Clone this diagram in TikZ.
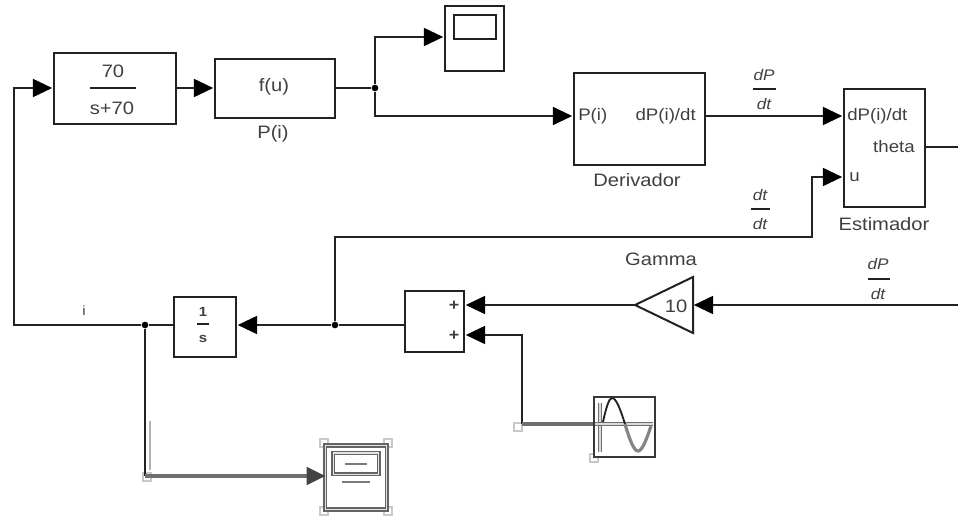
\documentclass[tikz,border=0pt]{standalone}
\usepackage{fontspec}
\setmainfont[FakeStretch=1.12]{Liberation Sans}
\usetikzlibrary{arrows.meta}
\definecolor{ink}{HTML}{222222}
\definecolor{txt}{HTML}{404040}
\tikzset{
  x=0.75pt,y=-0.75pt,
  block/.style={draw=ink,line width=1.5pt,fill=white,inner sep=0pt},
  ghost/.style={draw=ink!70,line width=1pt,double=white!75!gray,double distance=1.2pt,fill=white,inner sep=0pt},
  wire/.style={draw=ink,line width=1.5pt},
  sig/.style={wire,-{Triangle[length=14.5pt,width=13.5pt,color=black]},shorten >=0.6pt},
  heavy/.style={draw=ink!65,line width=2.6pt},
  dot/.style={circle,fill=black,inner sep=0pt,minimum size=5pt},
  lab/.style={text=txt,font=\fontsize{13.5}{15}\selectfont,inner sep=0pt},
  port/.style={text=txt,font=\fontsize{12.5}{15}\selectfont,inner sep=0pt},
  frac/.style={text=txt,font=\fontsize{11.5}{13}\selectfont\itshape,inner sep=0pt},
  fracbar/.style={draw=ink,line width=1.1pt},
  handle/.style={draw=ink!25,line width=0.8pt,fill=white,minimum size=6pt,inner sep=0pt}
}
\begin{document}
\begin{tikzpicture}
\useasboundingbox (0,0) rectangle (958,521);
\fill[white] (0,0) rectangle (958,521);
% blocks
\node[block,minimum width=91.5pt,minimum height=53.25pt] (tf) at (115,88) {};
\node[block,minimum width=90pt,minimum height=44.25pt] (fu) at (275,88) {};
\node[block,minimum width=44.25pt,minimum height=48.75pt] (sc) at (474.5,38.5) {};
\node[draw=ink,line width=1.5pt,minimum width=31.5pt,minimum height=18pt,inner sep=0pt] (scin) at (475,27) {};
\node[block,minimum width=98.25pt,minimum height=69pt] (der) at (639.5,119) {};
\node[block,minimum width=60.75pt,minimum height=88.5pt] (est) at (884.5,148) {};
\node[block,minimum width=44.25pt,minimum height=45.75pt] (sum) at (434.5,321.5) {};
\node[block,minimum width=46.5pt,minimum height=45pt] (int) at (205,327) {};
% handles of the selected blocks
\node[handle] (h1) at (147,477) {};
\node[handle] (h2) at (518,427) {};
\node[handle] (h3) at (324,443) {};
\node[handle] (h4) at (388,443) {};
\node[handle] (h5) at (324,511) {};
\node[handle] (h6) at (388,511) {};
\node[handle] (h7) at (594,458) {};
\node[ghost,minimum width=46pt,minimum height=48pt] (sc2) at (356,477.5) {};
\node[draw=ink!70,line width=1pt,double=white!80!gray,double distance=1pt,minimum width=34pt,minimum height=16pt,inner sep=0pt] (sc2in) at (356,463.5) {};
\draw[ink!60,line width=1pt] (345,464) -- (367,464);
\draw[ink!60,line width=1pt] (342,482) -- (370,482);
\node[draw=ink!90,line width=1.5pt,fill=white,minimum width=45.75pt,minimum height=45pt,inner sep=0pt] (sine) at (624.5,427) {};
% gain
\coordinate (gtip) at (635,305);
\coordinate (gtop) at (693,277);
\coordinate (gbot) at (693,333);
\draw[wire,fill=white,line join=miter] (gtip) -- (gtop) -- (gbot) -- cycle;
\node[lab] (gv) at (676,306) {10};
% sine icon
\coordinate (sa) at (600,403);
\coordinate (sb) at (600,452);
\coordinate (sc0) at (595,424);
\coordinate (sd) at (653,424);
\draw[ink!65,line width=1pt,double=white!70!gray,double distance=0.8pt] (sa) -- (sb);
\draw[ink!65,line width=1pt,double=white!70!gray,double distance=0.8pt] (sc0) -- (sd);
\draw[ink,line width=1.4pt] (603,422) .. controls (606,408) and (609,398) .. (612,398) .. controls (616,398) and (620,408) .. (625,424);
\draw[ink!55,line width=2.4pt] (625,424) .. controls (630,441) and (634,451) .. (638,451) .. controls (642,451) and (646,441) .. (651,426);
% text
\node[lab] (num) at (113,71) {70};
\draw[ink,line width=1.2pt] (90,88) -- (136,88);
\node[lab] (den) at (112,108) {s+70};
\node[lab] (fut) at (274,87) {f(u)};
\node[lab] (pil) at (273,134) {P(i)};
\node[port,anchor=west] (pin) at (578,116) {P(i)};
\node[port,anchor=east] (dpo) at (696,116) {dP(i)/dt};
\node[lab] (derl) at (637,180) {Derivador};
\node[port,anchor=west] (dpi) at (847,116) {dP(i)/dt};
\node[port,anchor=east] (tho) at (915,147) {theta};
\node[port,anchor=west] (uin) at (849,177) {u};
\node[lab] (estl) at (884,224) {Estimador};
\node[lab] (gam) at (661,259) {Gamma};
\node[port,font=\fontsize{12}{14}\selectfont\bfseries] (p1) at (454,306) {+};
\node[port,font=\fontsize{12}{14}\selectfont\bfseries] (p2) at (454,336) {+};
\node[lab,font=\fontsize{10}{11}\selectfont\bfseries] (one) at (203,312) {1};
\draw[ink,line width=1.1pt] (197,324) -- (209,324);
\node[lab,font=\fontsize{10}{11}\selectfont\bfseries] (es) at (203,339) {s};
\node[lab,font=\fontsize{10}{11}\selectfont] (il) at (84,311) {i};
\node[frac] (a1) at (764,75) {dP};
\draw[fracbar] (753,89) -- (776,89);
\node[frac] (a2) at (764,104) {dt};
\node[frac] (b1) at (760,195) {dt};
\draw[fracbar] (751,209) -- (770,209);
\node[frac] (b2) at (760,224) {dt};
\node[frac] (c1) at (878,264) {dP};
\draw[fracbar] (868,279) -- (890,279);
\node[frac] (c2) at (878,294) {dt};
% junctions and free ends
\node[dot] (j1) at (375,88) {};
\node[dot] (j2) at (335,325) {};
\node[dot] (j3) at (145,325) {};
\coordinate (c1a) at (375,37);
\coordinate (c1b) at (375,116);
\coordinate (right1) at (958,147);
\coordinate (right2) at (958,305);
\coordinate (l1) at (14,325);
\coordinate (l2) at (14,88);
\coordinate (u1) at (335,237);
\coordinate (u2) at (812,237);
\coordinate (u3) at (812,177);
\coordinate (k1) at (145,476);
\coordinate (s1) at (522,335);
\coordinate (s2) at (522,424);
% connectors
\draw[sig] (tf.east) -- (fu.west);
\draw[wire] (fu.east) -- (j1);
\draw[sig] (j1) -- (c1a) -- (sc.west |- c1a);
\draw[sig] (j1) -- (c1b) -- (der.west |- c1b);
\draw[sig] (der.east |- c1b) -- (est.west |- c1b);
\draw[wire] (est.east |- right1) -- (right1);
\draw[sig] (right2) -- (693,305);
\draw[sig] (gtip) -- (sum.east |- gtip);
\draw[wire] (j3) -- (145,476);
\draw[sig] (s2) -- (s1) -- (sum.east |- s1);
\draw[heavy] (sine.west |- s2) -- (s2);
\draw[wire] (sum.west |- j2) -- (j2);
\draw[sig] (j2) -- (int.east |- j2);
\draw[sig] (j2) -- (u1) -- (u2) -- (u3) -- (est.west |- u3);
\draw[wire] (int.west |- j3) -- (j3);
\draw[sig] (j3) -- (l1) -- (l2) -- (tf.west);
\draw[draw=ink!35,line width=0.9pt] (150,421) -- (150,470);
\draw[heavy,-{Triangle[length=14pt,width=13pt,color=ink!85]},shorten >=-0.5pt] (k1) -- (sc2.west |- k1);
\end{tikzpicture}
\end{document}
